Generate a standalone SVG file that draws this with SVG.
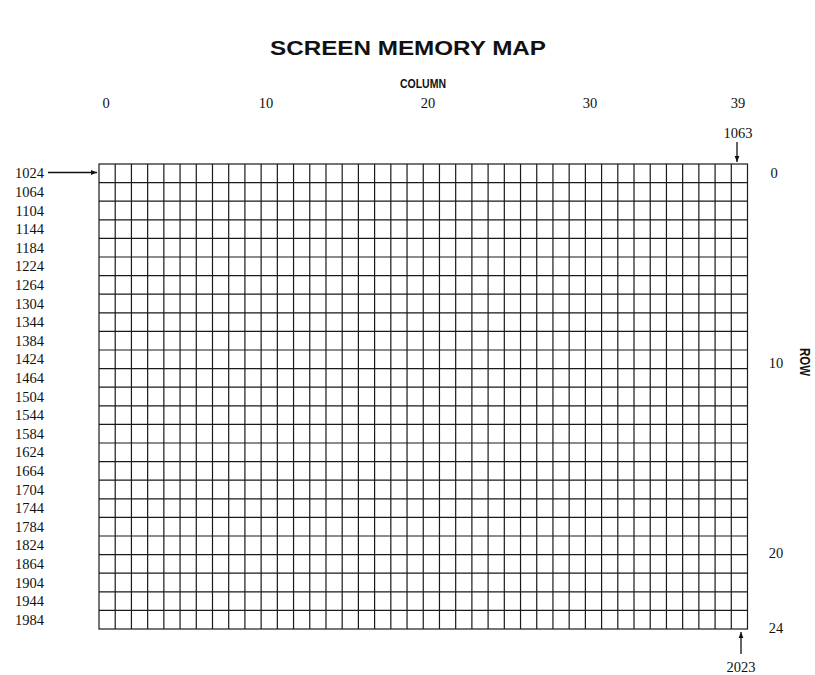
<svg xmlns="http://www.w3.org/2000/svg" width="815" height="675" viewBox="0 0 815 675">
<style>
.t{font-family:"Liberation Sans",Arial,sans-serif;font-weight:bold;fill:#111}
.n{font-family:"Liberation Serif","Times New Roman",serif;font-size:14.5px;fill:#111}
.g{stroke:#1a1a1a;stroke-width:1.2;fill:none}
.c{stroke:#111;stroke-width:1.3;fill:none}
</style>
<defs>
<marker id="ah" viewBox="0 0 10 10" refX="10" refY="5" markerWidth="8" markerHeight="6" markerUnits="userSpaceOnUse" orient="auto">
<path d="M0,1 L10,5 L0,9 Z" fill="#111"/>
</marker>
</defs>
<rect width="815" height="675" fill="#fff"/>
<g id="title">
<text class="t" x="408" y="55" text-anchor="middle" font-size="20" textLength="276" lengthAdjust="spacingAndGlyphs">SCREEN MEMORY MAP</text>
</g>
<g id="column-axis">
<text class="t" x="423" y="88" text-anchor="middle" font-size="12.5" textLength="46" lengthAdjust="spacingAndGlyphs">COLUMN</text>
<g class="n" text-anchor="middle">
<text x="106" y="108">0</text>
<text x="266" y="108">10</text>
<text x="428" y="108">20</text>
<text x="590" y="108">30</text>
<text x="738" y="108">39</text>
</g>
</g>
<g id="row-axis">
<text class="t" font-size="14" text-anchor="middle" transform="translate(800,362) rotate(90)" textLength="28" lengthAdjust="spacingAndGlyphs">ROW</text>
<g class="n" text-anchor="middle">
<text x="774" y="178">0</text>
<text x="776" y="368">10</text>
<text x="776" y="558">20</text>
<text x="776" y="633">24</text>
</g>
</g>
<g id="address-labels" class="n" text-anchor="end">
<text x="44" y="178.3">1024</text>
<text x="44" y="196.9">1064</text>
<text x="44" y="215.5">1104</text>
<text x="44" y="234.1">1144</text>
<text x="44" y="252.7">1184</text>
<text x="44" y="271.3">1224</text>
<text x="44" y="289.9">1264</text>
<text x="44" y="308.5">1304</text>
<text x="44" y="327.1">1344</text>
<text x="44" y="345.7">1384</text>
<text x="44" y="364.3">1424</text>
<text x="44" y="382.9">1464</text>
<text x="44" y="401.5">1504</text>
<text x="44" y="420.1">1544</text>
<text x="44" y="438.7">1584</text>
<text x="44" y="457.3">1624</text>
<text x="44" y="475.9">1664</text>
<text x="44" y="494.5">1704</text>
<text x="44" y="513.1">1744</text>
<text x="44" y="531.7">1784</text>
<text x="44" y="550.3">1824</text>
<text x="44" y="568.9">1864</text>
<text x="44" y="587.5">1904</text>
<text x="44" y="606.1">1944</text>
<text x="44" y="624.7">1984</text>
</g>
<g id="corner-labels" class="n" text-anchor="middle">
<text x="738" y="138">1063</text>
<text x="741" y="672">2023</text>
</g>
<g id="grid">
<rect class="g" x="99" y="164" width="648.5" height="465" stroke-width="1.5"/>
<path class="g" d="M115.21,164V629M131.43,164V629M147.64,164V629M163.85,164V629M180.06,164V629M196.28,164V629M212.49,164V629M228.7,164V629M244.91,164V629M261.13,164V629M277.34,164V629M293.55,164V629M309.76,164V629M325.98,164V629M342.19,164V629M358.4,164V629M374.61,164V629M390.83,164V629M407.04,164V629M423.25,164V629M439.46,164V629M455.68,164V629M471.89,164V629M488.1,164V629M504.31,164V629M520.53,164V629M536.74,164V629M552.95,164V629M569.16,164V629M585.38,164V629M601.59,164V629M617.8,164V629M634.01,164V629M650.23,164V629M666.44,164V629M682.65,164V629M698.86,164V629M715.08,164V629M731.29,164V629"/>
<path class="g" d="M99,182.6H747.5M99,201.2H747.5M99,219.8H747.5M99,238.4H747.5M99,257H747.5M99,275.6H747.5M99,294.2H747.5M99,312.8H747.5M99,331.4H747.5M99,350H747.5M99,368.6H747.5M99,387.2H747.5M99,405.8H747.5M99,424.4H747.5M99,443H747.5M99,461.6H747.5M99,480.2H747.5M99,498.8H747.5M99,517.4H747.5M99,536H747.5M99,554.6H747.5M99,573.2H747.5M99,591.8H747.5M99,610.4H747.5"/>
</g>
<g id="connectors">
<line class="c" x1="48" y1="172.5" x2="97" y2="172.5" marker-end="url(#ah)"/>
<line class="c" x1="737" y1="142" x2="737" y2="162" marker-end="url(#ah)"/>
<line class="c" x1="741" y1="654" x2="741" y2="632" marker-end="url(#ah)"/>
</g>
</svg>
